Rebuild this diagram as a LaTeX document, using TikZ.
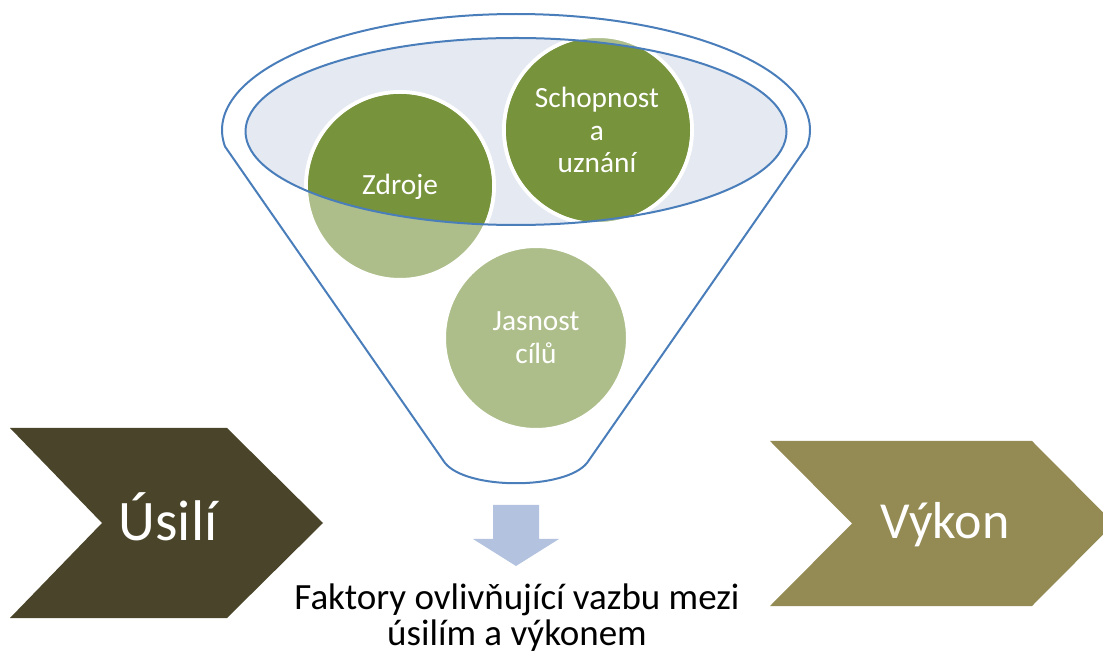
\documentclass[tikz,border=0pt]{standalone}
\usepackage{fontspec}
\setmainfont{Carlito}
\definecolor{dkgreen}{HTML}{77933C}
\definecolor{ltgreen}{HTML}{ADBE8A}
\definecolor{rimblue}{HTML}{4A7EBB}
\definecolor{rimfill}{HTML}{E4E9F2}
\definecolor{arrowblue}{HTML}{B3C3DF}
\definecolor{effortc}{HTML}{4A452A}
\definecolor{perfc}{HTML}{948A54}
\tikzset{
  funnelline/.style={draw=rimblue, line width=1.5pt, line join=round},
  ringcircle/.style={draw=white, line width=3pt},
  circtext/.style={text=white, font=\fontsize{22}{24.6}\selectfont, align=center, inner sep=0pt},
  chevtext/.style={text=white, inner sep=0pt, anchor=base},
  bottomtext/.style={text=black, font=\fontsize{27.75}{27}\selectfont, align=center, inner sep=0pt}
}
\begin{document}
\begin{tikzpicture}[x=0.75pt,y=-0.75pt]
\useasboundingbox (0,0) rectangle (1103,655);
\clip (0,0) rectangle (1103,655);
% chevrons
\fill[effortc] (10,428) -- (227,428) -- (323,523) -- (227,618) -- (10,618) -- (102,523) -- cycle;
\fill[perfc] (770,441) -- (1032,441) -- (1114,523.5) -- (1032,606) -- (770,606) -- (852,523.5) -- cycle;
\node[chevtext, font=\fontsize{43}{50}\selectfont] (usili) at (168,541) {Úsilí};
\node[chevtext, font=\fontsize{39}{46}\selectfont] (vykon) at (945,538) {Výkon};
% funnel outline
\draw[funnelline] plot[domain=171.8:368.2, samples=120, smooth] ({516+294*cos(\x)},{130+116*sin(\x)})
  -- (587,463) .. controls (565,490) and (467,490) .. (445,463) -- cycle;
% rim fill
\fill[rimfill] (516,131.5) ellipse [x radius=270.5, y radius=93.5];
% circles (light)
\path[ringcircle, fill=ltgreen] (400,186) circle [radius=94];
\path[ringcircle, fill=ltgreen] (598,130) circle [radius=94];
\path[ringcircle, fill=ltgreen] (536,338) circle [radius=92];
% darker parts inside rim
\begin{scope}
  \clip (516,131.5) ellipse [x radius=270.5, y radius=93.5];
  \fill[dkgreen] (400,186) circle [radius=92];
  \fill[dkgreen] (598,130) circle [radius=92];
\end{scope}
% rim outline
\draw[funnelline] (516,131.5) ellipse [x radius=270.5, y radius=93.5];
% circle texts
\node[circtext, anchor=base] (zdroje) at (400,195) {Zdroje};
\node[circtext] (schopnost) at (597,130) {Schopnost\\a\\uznání};
\node[circtext] (jasnost) at (536,338) {Jasnost\\cílů};
% down arrow
\fill[arrowblue] (493,505) -- (539,505) -- (539,539) -- (559,539) -- (516,566) -- (473,539) -- (493,539) -- cycle;
\node[bottomtext] (factors) at (517,618) {Faktory ovlivňující vazbu mezi\\úsilím a výkonem};
\end{tikzpicture}
\end{document}
